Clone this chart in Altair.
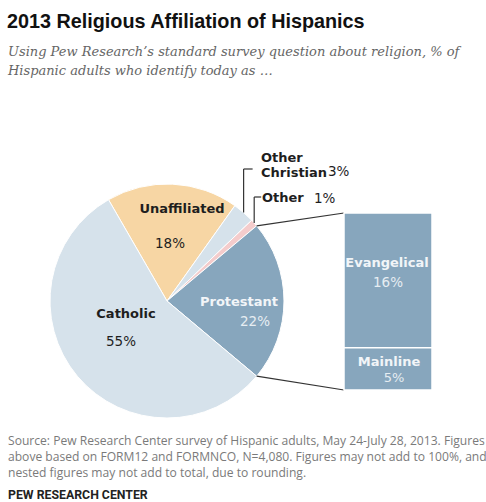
import math
import altair as alt
import pandas as pd

W, H = 486, 502

# ---- data ----
pie_cats = ["Unaffiliated", "Other Christian", "Other", "Protestant", "Catholic"]
pie_vals = [18, 3, 1, 22, 55]
pie_colors = ["#f7d6a4", "#d6e2eb", "#f4cccc", "#87a6bd", "#d6e2eb"]

sub_cats = ["Evangelical", "Mainline"]
sub_vals = [16, 5]

title_text = "2013 Religious Affiliation of Hispanics"
subtitle_lines = ["Using Pew Research\u2019s standard survey question about religion, % of",
                  "Hispanic adults who identify today as \u2026"]
source_lines = ["Source: Pew Research Center survey of Hispanic adults, May 24-July 28, 2013. Figures",
                "above based on FORM12 and FORMNCO, N=4,080. Figures may not add to 100%, and",
                "nested figures may not add to total, due to rounding."]
credit = "PEW RESEARCH CENTER"

# ---- geometry (layout) ----
cx, cy, R = 167, 301, 117
start = math.radians(-30)
total = sum(pie_vals)
bar_x0, bar_x1 = 344, 432
bar_top, bar_bot = 213, 390

def ang(cum):
    return start + cum / total * 2 * math.pi

def pt(a):
    return cx + R * math.sin(a), cy - R * math.cos(a)

cum = [sum(pie_vals[:i]) for i in range(len(pie_vals))]
pi_ = pie_cats.index("Protestant")
p_start = pt(ang(cum[pi_]))
p_end = pt(ang(cum[pi_] + pie_vals[pi_]))
oc = pie_cats.index("Other Christian")
ot = pie_cats.index("Other")
oc_pt = pt(ang(cum[oc] + pie_vals[oc] / 2))
ot_pt = pt(ang(cum[ot] + pie_vals[ot] / 2))

xs = alt.Scale(domain=[0, W])
ys = alt.Scale(domain=[0, H], reverse=True)

seg = pd.DataFrame([
    # connectors to bar
    dict(x=p_start[0], y=p_start[1], x2=bar_x0, y2=bar_top),
    dict(x=p_end[0], y=p_end[1], x2=bar_x0, y2=bar_bot),
    # callouts
    dict(x=oc_pt[0], y=oc_pt[1], x2=oc_pt[0], y2=169),
    dict(x=oc_pt[0], y=169, x2=oc_pt[0] + 9, y2=169),
    dict(x=ot_pt[0], y=ot_pt[1], x2=ot_pt[0], y2=197),
    dict(x=ot_pt[0], y=197, x2=ot_pt[0] + 7, y2=197),
])

pie_df = pd.DataFrame({"cat": pie_cats, "val": pie_vals, "ord": list(range(len(pie_cats)))})

arc = alt.Chart(pie_df).mark_arc(outerRadius=R, stroke="white", strokeWidth=1).encode(
    theta=alt.Theta("val:Q", stack=True, scale=alt.Scale(range=[start, start + 2 * math.pi])),
    color=alt.Color("cat:N", scale=alt.Scale(domain=pie_cats, range=pie_colors), legend=None),
    order=alt.Order("ord:Q"),
    x=alt.value(cx), y=alt.value(cy),
)

bar_df = pd.DataFrame({"cat": sub_cats, "val": sub_vals})
bar_df["s"] = bar_df["val"].cumsum() - bar_df["val"]
bar_df["e"] = bar_df["val"].cumsum()
bscale = alt.Scale(domain=[0, sum(sub_vals)], range=[bar_top, bar_bot])

bars = alt.Chart(bar_df).mark_bar(color="#87a6bd", stroke="white", strokeWidth=1.5).encode(
    x=alt.value(bar_x0), x2=alt.value(bar_x1),
    y=alt.Y("s:Q", scale=bscale, axis=None), y2="e:Q",
)

lines = alt.Chart(seg).mark_rule(color="#333333", strokeWidth=1.2).encode(
    x=alt.X("x:Q", scale=xs, axis=None), y=alt.Y("y:Q", scale=ys, axis=None),
    x2="x2:Q", y2="y2:Q")


def txt(s, x, y, size, weight="normal", color="#1e1e1e", font="DejaVu Sans", style="normal", align="left"):
    return alt.Chart(pd.DataFrame({"t": [s]})).mark_text(
        text=s, font=font, fontSize=size, fontWeight=weight, fontStyle=style, color=color,
        align=align, baseline="alphabetic").encode(x=alt.value(x), y=alt.value(y))

pct = {c: f"{v}%" for c, v in zip(pie_cats + sub_cats, pie_vals + sub_vals)}
light, light2 = "#f2f5f8", "#e6edf2"

texts = [
    txt(title_text, 7, 28, 19.8, "bold", "#111111", "Liberation Sans"),
    txt(subtitle_lines[0], 8, 56, 13, color="#666666", font="DejaVu Serif", style="italic"),
    txt(subtitle_lines[1], 8, 75, 13, color="#666666", font="DejaVu Serif", style="italic"),
    txt("Unaffiliated", 182, 213, 13, "bold", align="center"),
    txt(pct["Unaffiliated"], 170, 248, 13.5, align="center"),
    txt("Catholic", 126, 318, 13, "bold", align="center"),
    txt(pct["Catholic"], 121, 346, 13.5, align="center"),
    txt("Protestant", 239, 306, 13, "bold", light, align="center"),
    txt(pct["Protestant"], 255, 326, 13.5, color=light2, align="center"),
    txt("Other", 261, 162, 13, "bold"),
    txt("Christian", 261, 177, 13, "bold"),
    txt(pct["Other Christian"], 328, 176, 13.5),
    txt("Other", 262, 202, 13, "bold"),
    txt(pct["Other"], 314, 203, 13.5),
    txt("Evangelical", 387, 267, 13, "bold", light, align="center"),
    txt(pct["Evangelical"], 388, 287, 13.5, color=light2, align="center"),
    txt("Mainline", 389, 366, 13, "bold", light, align="center"),
    txt(pct["Mainline"], 394, 382, 13, color=light2, align="center"),
    txt(source_lines[0], 8, 445, 12.1, color="#7a7a7a", font="Open Sans"),
    txt(source_lines[1], 8, 461, 12.1, color="#7a7a7a", font="Open Sans"),
    txt(source_lines[2], 8, 477, 12.1, color="#7a7a7a", font="Open Sans"),
    txt(credit, 8, 499, 12.3, "bold", "#222222", "Roboto"),
]

chart = alt.layer(arc, lines, bars, *texts).resolve_scale(
    x="independent", y="independent"
).properties(
    width=W, height=H, padding=0, autosize=alt.AutoSizeParams(type="none"), background="white"
).configure_view(stroke=None)

chart.save("out.html", embed_options={"renderer": "svg", "actions": False})
